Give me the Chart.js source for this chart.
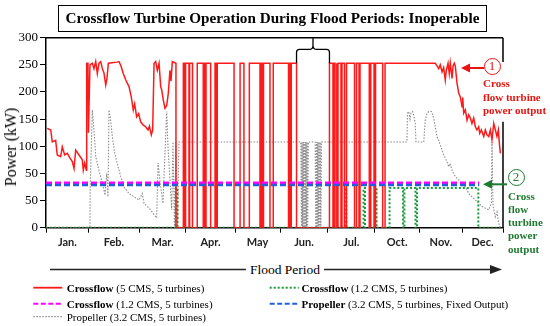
<!DOCTYPE html>
<html>
<head>
<meta charset="utf-8">
<script src="https://cdn.jsdelivr.net/npm/chart.js@4.4.0/dist/chart.umd.min.js"></script>
<style>
  body { margin: 0; width: 550px; height: 326px; overflow: hidden; background: #fff; position: relative; font-family: "Liberation Serif", serif; color: #000; }
  #c { position: absolute; left: 0; top: 0; }
  .t { position: absolute; white-space: nowrap; }
  #title { left: 58px; top: 5px; width: 429px; height: 27px; box-sizing: border-box; border: 1.5px solid #000; font-weight: bold; font-size: 15.2px; line-height: 24px; text-align: center; }
  #ytitle { left: 11px; top: 147px; font-size: 16px; transform: translate(-50%, -50%) rotate(-90deg); }
  .note { font-weight: bold; font-size: 11px; line-height: 13.7px; }
  #note1 { left: 483px; top: 77px; color: #e8140f; }
  #note2 { left: 508px; top: 189.5px; color: #1d7a30; line-height: 13.3px; }
  .circ { position: absolute; width: 17px; height: 17px; box-sizing: border-box; border-radius: 50%; border: 1.5px solid; font-size: 13px; line-height: 14px; text-align: center; }
  #c1 { left: 483.5px; top: 57.5px; color: #e8140f; border-color: #e8140f; }
  #c2 { left: 507.5px; top: 168.5px; color: #1d7a30; border-color: #1d7a30; }
  #flood { left: 285px; top: 269.5px; transform: translate(-50%, -50%); font-size: 13.5px; background: #fff; padding: 0 4px; }
  .leg { font-size: 11px; line-height: 14px; }
</style>
</head>
<body>
<canvas id="c" width="550" height="326"></canvas>
<div class="t" id="title">Crossflow Turbine Operation During Flood Periods: Inoperable</div>
<div class="t" id="ytitle">Power (kW)</div>
<div class="t note" id="note1">Cross<br>flow turbine<br>power output</div>
<div class="t note" id="note2">Cross<br>flow<br>turbine<br>power<br>output</div>
<div class="circ" id="c1">1</div>
<div class="circ" id="c2">2</div>
<div class="t" id="flood">Flood Period</div>
<div class="t leg" style="left:66.7px;top:280.7px"><b>Crossflow</b> (5 CMS, 5 turbines)</div>
<div class="t leg" style="left:66.7px;top:296.7px"><b>Crossflow</b> (1.2 CMS, 5 turbines)</div>
<div class="t leg" style="left:66.7px;top:309.7px">Propeller (3.2 CMS, 5 turbines)</div>
<div class="t leg" style="left:301.5px;top:280.7px"><b>Crossflow</b> (1.2 CMS, 5 turbines)</div>
<div class="t leg" style="left:301.5px;top:296.7px"><b>Propeller</b> (3.2 CMS, 5 turbines, Fixed Output)</div>
<script>
// x in days of the period, y in axis units (labels below are what the figure prints)
const months = ['Jan.', 'Feb.', 'Mar.', 'Apr.', 'May', 'Jun.', 'Jul.', 'Oct.', 'Nov.', 'Dec.'];
const monthEdges = [0, 34.3, 74.3, 111.8, 151, 187, 225.2, 262.4, 298.4, 332.3, 365];
const yTickLabels = ['0', '50', '50', '100', '150', '200', '250', '300'];

// Crossflow 5 CMS: free running part before the flood season
const crossflow5Early = [
  [1.0, 183], [3.8, 180], [5.0, 158], [7.7, 161], [9.0, 134], [11.7, 131], [13.0, 149], [14.9, 134],
  [17.0, 137], [19.2, 128], [21.0, 122], [22.4, 109], [23.7, 143], [26.4, 134], [29.0, 125], [29.8, 106],
  [30.9, 119], [32.2, 106], [32.5, 303], [33.5, 303], [33.9, 175], [35.1, 300], [37.0, 303], [38.3, 293],
  [39.7, 306], [41.0, 284], [42.3, 303], [43.7, 306], [45.0, 293], [46.3, 285], [47.7, 263], [48.7, 275],
  [49.8, 303], [56.7, 305], [58.3, 306], [59.9, 298], [61.7, 284], [63.7, 272], [66.3, 260], [68.1, 241],
  [69.7, 217], [70.8, 228], [72.4, 204], [74.0, 210], [75.6, 195], [77.7, 189], [79.6, 186], [81.5, 180],
  [82.6, 187], [84.1, 171], [85.2, 180], [86.3, 303], [87.6, 306], [88.9, 290], [90.3, 303], [91.6, 260],
  [92.4, 254], [93.7, 235], [95.0, 220], [96.4, 225], [97.7, 248], [99.0, 290], [99.8, 270], [100.9, 306],
  [103.8, 303]
];
const crossflow5Top = 303;
// days where the crossflow unit drops to zero (start, end)
const crossflow5Dips = [
  [103.8, 109.7], [110.9, 111.5], [114.2, 114.7], [117.0, 120.8], [125.6, 126.2], [127.0, 127.8],
  [131.5, 135.0], [136.0, 136.8], [150.2, 155.0], [158.1, 162.4], [170.9, 171.7], [172.9, 173.7],
  [178.9, 181.5], [193.7, 194.5], [195.3, 195.9], [200.1, 226.4], [229.2, 230.0], [230.8, 232.0],
  [232.4, 233.2], [235.6, 236.4], [238.4, 240.0], [246.4, 248.0], [250.0, 250.8], [258.2, 259.4],
  [262.0, 263.2], [268.9, 270.8]
];
const crossflow5Late = [
  [310.9, 303], [312.3, 298], [313.6, 293], [314.9, 300], [316.3, 287], [317.6, 295], [318.9, 272],
  [319.7, 290], [321.1, 303], [322.1, 284], [322.9, 303], [324.3, 275], [325.1, 298], [326.1, 303],
  [326.9, 298], [327.5, 284], [328.3, 266], [329.6, 248], [330.9, 241], [332.3, 223], [332.8, 240],
  [333.6, 211], [334.9, 217], [336.3, 198], [337.6, 208], [338.9, 202], [340.2, 192], [341.6, 202],
  [342.9, 186], [344.2, 180], [345.6, 186], [346.4, 174], [347.7, 180], [349.6, 168], [350.9, 180],
  [352.2, 171], [353.6, 168], [354.9, 180], [356.2, 162], [357.6, 192], [358.9, 180], [360.2, 168],
  [361.3, 180], [362.1, 155], [362.9, 137]
];

// Crossflow 1.2 CMS: running windows at its rated level
const crossflow12Level = 73;
const crossflow12Runs = [
  [103.8, 105.0], [239.2, 239.8], [253.6, 254.8], [262.8, 264.0], [274.4, 285.1], [286.3, 295.1], [296.3, 345.3]
];
const crossflow12Fixed = 83;   // magenta dashed
const propellerFixed = 78.5;   // blue dashed
const fixedEnd = 346;

// Propeller 3.2 CMS
const propellerPts = [
  [0, 0], [35.1, 0], [35.3, 75], [37.0, 217], [38.3, 180], [39.7, 131], [41.0, 118], [42.3, 105],
  [43.7, 94], [44.7, 85], [45.8, 75], [47.1, 60], [48.5, 100], [49.0, 80], [49.5, 57], [50.3, 217],
  [51.5, 200], [53.0, 168], [54.9, 137], [56.9, 118], [59.7, 94], [62.3, 75], [66.3, 63], [70.3, 57],
  [74.3, 51], [76.9, 63], [78.3, 45], [80.9, 39], [83.6, 33], [86.3, 24], [88.4, 18], [89.5, 119],
  [91.1, 85], [93.4, 45], [96.4, 214], [97.4, 150], [100.4, 33], [101.4, 158], [102.6, 0], [103.8, 158],
  [105.0, 0], [106.2, 158], [203.5, 158], [204, 0], [204.5, 158], [205, 0], [205.5, 158], [206, 0],
  [206.5, 158], [207, 0], [207.5, 158], [208, 0], [208.5, 158], [209, 0], [209.5, 158], [215, 158],
  [215.5, 0], [216, 158], [216.5, 0], [217, 158], [217.5, 0], [218, 158], [218.5, 0], [219, 158],
  [219.5, 0], [220, 158], [288.3, 158], [288.7, 211], [289.7, 214], [290.7, 200], [291.5, 211],
  [292.8, 214], [293.9, 205], [294.9, 192], [295.5, 158], [301.7, 158], [302.9, 198], [304.3, 211],
  [305.7, 214], [307.8, 214], [308.9, 208], [309.9, 198], [310.9, 186], [312.3, 168], [313.6, 161],
  [314.9, 152], [316.3, 143], [317.6, 134], [318.9, 128], [320.3, 122], [321.6, 112], [322.7, 118],
  [324.3, 106], [326.9, 94], [329.6, 88], [332.3, 82], [334.9, 75], [337.6, 63], [340.2, 57],
  [342.9, 51], [345.6, 45], [348.2, 39], [350.9, 36], [353.6, 33], [355.7, 45], [356.2, 158],
  [357.0, 40], [358.9, 20], [360.2, 29], [361.6, 8], [362.9, 0]
];

const red = '#ff1a1a', magenta = '#ff00ff', blue = '#2160dc', gray = '#8c8c8c', green = '#1a9a3a';

function xy(list) { return list.map(p => ({x: p[0], y: p[1]})); }

const redPts = crossflow5Early.slice();
crossflow5Dips.forEach(d => {
  redPts.push([d[0], crossflow5Top], [d[0], 0], [d[1], 0], [d[1], crossflow5Top]);
});
crossflow5Late.forEach(p => redPts.push(p));

const greenPts = [[0, 0]];
crossflow12Runs.forEach(r => {
  greenPts.push([r[0], 0], [r[0], crossflow12Level], [r[1], crossflow12Level], [r[1], 0]);
});
greenPts.push([362.9, 0]);

const decor = {
  id: 'decor',
  afterDraw(chart) {
    const ctx = chart.ctx, a = chart.chartArea, xs = chart.scales.x, ys = chart.scales.y;
    ctx.save();
    ctx.strokeStyle = '#000';
    ctx.lineWidth = 1.5;
    ctx.beginPath();
    ctx.moveTo(a.left, a.top); ctx.lineTo(a.right, a.top);
    ctx.moveTo(a.right, a.top); ctx.lineTo(a.right, 62);
    ctx.moveTo(a.right, 121.7); ctx.lineTo(a.right, a.bottom);
    ctx.stroke();

    // brace over the long outage
    const bl = xs.getPixelForValue(crossflow5Dips[15][0]), br = xs.getPixelForValue(crossflow5Dips[15][1]);
    const bm = (bl + br) / 2, by = ys.getPixelForValue(crossflow5Top), bh = 49.3;
    ctx.lineWidth = 1.3;
    ctx.beginPath();
    ctx.moveTo(bl, by);
    ctx.lineTo(bl, bh + 3);
    ctx.quadraticCurveTo(bl, bh, bl + 3, bh);
    ctx.lineTo(bm - 3, bh);
    ctx.quadraticCurveTo(bm, bh, bm, bh - 4);
    ctx.quadraticCurveTo(bm, bh, bm + 3, bh);
    ctx.lineTo(br - 3, bh);
    ctx.quadraticCurveTo(br, bh, br, bh + 3);
    ctx.lineTo(br, by);
    ctx.moveTo(bm, bh - 4); ctx.lineTo(bm, a.top);
    ctx.stroke();

    function arrow(x1, x2, y, col, w, head, half) {
      ctx.strokeStyle = col; ctx.fillStyle = col; ctx.lineWidth = w;
      const dir = Math.sign(x2 - x1);
      ctx.beginPath(); ctx.moveTo(x1, y); ctx.lineTo(x2 - dir * head, y); ctx.stroke();
      ctx.beginPath(); ctx.moveTo(x2, y); ctx.lineTo(x2 - dir * head, y - half); ctx.lineTo(x2 - dir * head, y + half); ctx.closePath(); ctx.fill();
    }
    arrow(484, 461, 68, '#e8140f', 2, 9, 4.5);
    arrow(507, 483, 184.3, '#1d7a30', 2, 9, 4.5);
    arrow(50, 502, 269.5, '#222', 1.5, 12, 4.5);

    // legend swatches
    function sw(x, y, col, w, dash) {
      ctx.strokeStyle = col; ctx.lineWidth = w; ctx.setLineDash(dash);
      ctx.beginPath(); ctx.moveTo(x, y); ctx.lineTo(x + 29, y); ctx.stroke();
    }
    sw(33.3, 287.7, red, 1.8, []);
    sw(33.3, 303.7, magenta, 2, [5, 2.5]);
    sw(33.3, 316.7, gray, 1.3, [1.5, 1.5]);
    sw(269.7, 287.7, green, 2, [2, 2]);
    sw(269.7, 303.7, blue, 2, [5, 2.5]);
    ctx.restore();
  }
};

new Chart(document.getElementById('c'), {
  type: 'line',
  data: {
    datasets: [
      {data: xy([[0, propellerFixed], [fixedEnd, propellerFixed]]), borderColor: blue, borderWidth: 2.5, borderDash: [6, 3], order: 0},
      {data: xy([[0, crossflow12Fixed], [fixedEnd, crossflow12Fixed]]), borderColor: magenta, borderWidth: 2.5, borderDash: [6, 3], order: 1},
      {data: xy(redPts), borderColor: red, borderWidth: 1.5, order: 2},
      {data: xy(greenPts), borderColor: green, borderWidth: 2, borderDash: [2, 2], order: 3},
      {data: xy(propellerPts), borderColor: gray, borderWidth: 1.1, borderDash: [1.5, 1.5], order: 4}
    ]
  },
  options: {
    responsive: false,
    animation: false,
    devicePixelRatio: 1,
    layout: {padding: {left: 0, top: 37.7, right: 47, bottom: 67.3}},
    elements: {point: {radius: 0}, line: {tension: 0, fill: false}},
    plugins: {legend: {display: false}, tooltip: {enabled: false}},
    scales: {
      x: {
        type: 'linear', position: 'bottom', min: 0, max: 365, weight: 0,
        afterBuildTicks: s => { s.ticks = monthEdges.map(v => ({value: v})); },
        afterFit: s => { s.height = 5; },
        ticks: {callback: () => '', autoSkip: false, maxRotation: 0},
        grid: {drawOnChartArea: false, tickLength: 5, color: '#000'},
        border: {color: '#000', width: 1.5}
      },
      xm: {
        type: 'linear', position: 'bottom', min: 0, max: 365, weight: 1,
        afterBuildTicks: s => { s.ticks = months.map((m, i) => ({value: (monthEdges[i] + monthEdges[i + 1]) / 2})); },
        afterFit: s => { s.height = 26; },
        ticks: {callback: (v, i) => months[i], autoSkip: false, maxRotation: 0, padding: 3, color: '#222',
                font: {family: 'Lato', weight: 'bold', size: 11}},
        grid: {display: false, drawTicks: false, tickLength: 0},
        border: {display: false}
      },
      y: {
        min: 0, max: 350,
        afterFit: s => { s.width = 46; },
        ticks: {stepSize: 50, callback: (v, i) => yTickLabels[i], color: '#000', padding: 2,
                font: {family: 'Liberation Serif', size: 13}},
        grid: {drawOnChartArea: false, tickLength: 6, color: '#000'},
        border: {color: '#000', width: 1.5}
      }
    }
  },
  plugins: [decor]
});
</script>
</body>
</html>
